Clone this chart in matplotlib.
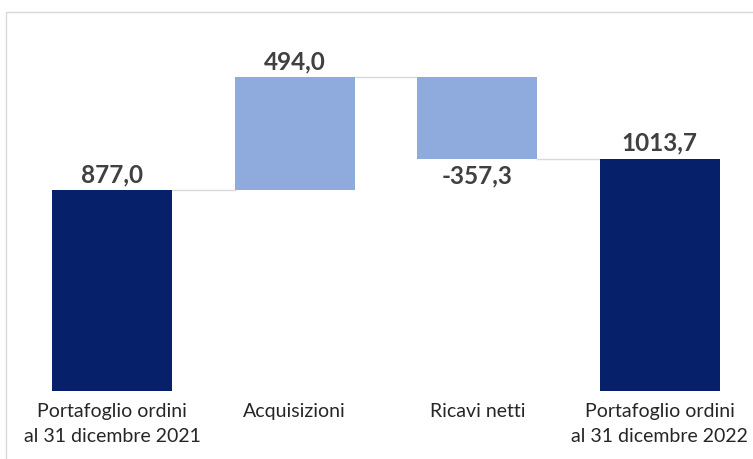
import matplotlib.pyplot as plt
from matplotlib.patches import Rectangle

categories = ["Portafoglio ordini\nal 31 dicembre 2021", "Acquisizioni",
              "Ricavi netti", "Portafoglio ordini\nal 31 dicembre 2022"]
changes = [877.0, 494.0, -357.3, 1013.7]
is_total = [True, False, False, True]
value_labels = ["877,0", "494,0", "-357,3", "1013,7"]

dark = "#06206a"
light = "#8faadc"
text_col = "#404040"

plt.rcParams['font.family'] = ['Lato', 'DejaVu Sans']

fig = plt.figure(figsize=(7.53, 4.60), dpi=100)
ax = fig.add_axes([21 / 753, 1 - 392 / 460, 730 / 753, 355 / 460])

# compute floating bottoms
bottoms, heights = [], []
running = 0.0
for v, tot in zip(changes, is_total):
    if tot:
        bottoms.append(0)
        heights.append(v)
        running = v
    else:
        if v >= 0:
            bottoms.append(running)
            heights.append(v)
        else:
            bottoms.append(running + v)
            heights.append(-v)
        running += v

x = list(range(len(categories)))
colors = [dark if t else light for t in is_total]
ax.bar(x, heights, bottom=bottoms, width=0.66, color=colors, zorder=2)

# connectors
level = 0.0
for i in range(len(x) - 1):
    level = changes[i] if is_total[i] else level + changes[i]
    ax.plot([x[i] + 0.33, x[i + 1] - 0.33], [level, level],
            color="#d9d9d9", lw=1, zorder=1)

# value labels
for i, (b, h, v) in enumerate(zip(bottoms, heights, changes)):
    if v >= 0:
        ax.text(x[i], b + h + 22, value_labels[i], ha='center', va='bottom',
                fontsize=17.5, fontweight='bold', color=text_col)
    else:
        ax.text(x[i], b - 22, value_labels[i], ha='center', va='top',
                fontsize=17.5, fontweight='bold', color=text_col)

ax.set_xlim(-0.5, 3.5)
ax.set_ylim(0, 1550)
ax.set_xticks(x)
ax.set_xticklabels(categories, fontsize=14, color="#262626", linespacing=1.55)
ax.tick_params(axis='x', length=0, pad=8)
ax.set_yticks([])
for s in ax.spines.values():
    s.set_visible(False)

fig.patches.append(Rectangle((6 / 753, -0.01), 1.0, 1 - 13 / 460 + 0.01,
                             transform=fig.transFigure, fill=False,
                             edgecolor="#d9d9d9", lw=1))

fig.savefig("out.png", dpi=100)
